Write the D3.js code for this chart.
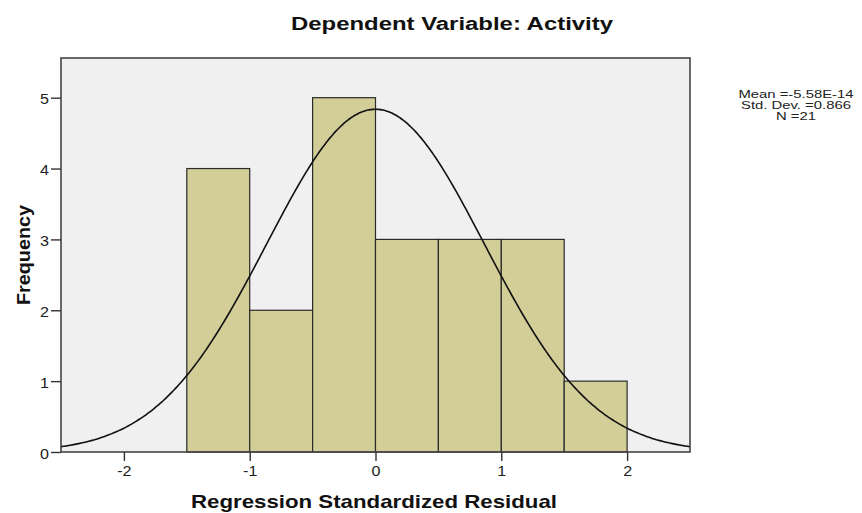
<!DOCTYPE html>
<html><head><meta charset="utf-8">
<script src="https://cdn.jsdelivr.net/npm/d3@7"></script>
<style>body{margin:0;background:#fff}svg{display:block}</style>
</head><body>
<script>
const binStarts = [-1.5, -1.0, -0.5, 0.0, 0.5, 1.0, 1.5];
const binWidth = 0.5;
const frequencies = [4, 2, 5, 3, 3, 3, 1];
const xTicks = [-2, -1, 0, 1, 2];
const yTicks = [0, 1, 2, 3, 4, 5];
const stats = { mean: -5.58e-14, sd: 0.866, n: 21 };
const statLabels = ["Mean =-5.58E-14", "Std. Dev. =0.866", "N =21"];

const W = 862, H = 513;
const FONT = "Liberation Sans, Arial, sans-serif";
const m = { left: 61, top: 58, right: 690, bottom: 452 };
const svg = d3.select("body").append("svg").attr("width", W).attr("height", H);
const x = d3.scaleLinear().domain([-2.5, 2.5]).range([m.left, m.right]);
const y = d3.scaleLinear().domain([0, 5.56]).range([m.bottom, m.top]);

function stretch(sel, f) {
  sel.each(function () {
    const len = this.getComputedTextLength();
    d3.select(this).attr("textLength", len * f).attr("lengthAdjust", "spacingAndGlyphs");
  });
}

svg.append("rect").attr("x", m.left).attr("y", m.top)
  .attr("width", m.right - m.left).attr("height", m.bottom - m.top)
  .attr("fill", "#f0f0f0");

svg.append("g").selectAll("rect").data(binStarts).join("rect")
  .attr("x", d => x(d)).attr("width", d => x(d + binWidth) - x(d))
  .attr("y", (d, i) => y(frequencies[i])).attr("height", (d, i) => y(0) - y(frequencies[i]))
  .attr("fill", "#d3ce97").attr("stroke", "#2a2a2a").attr("stroke-width", 1.2);

const pts = d3.range(-2.5, 2.5001, 0.02).map(v => [v,
  stats.n * binWidth / (stats.sd * Math.sqrt(2 * Math.PI)) * Math.exp(-0.5 * ((v - stats.mean) / stats.sd) ** 2)]);
svg.append("path").datum(pts)
  .attr("d", d3.line().x(d => x(d[0])).y(d => y(d[1])).curve(d3.curveBasis))
  .attr("fill", "none").attr("stroke", "#111").attr("stroke-width", 1.6);

svg.append("rect").attr("x", m.left).attr("y", m.top)
  .attr("width", m.right - m.left).attr("height", m.bottom - m.top)
  .attr("fill", "none").attr("stroke", "#444").attr("stroke-width", 1.6);

const fmt = d => String(d);
const xa = svg.append("g").attr("transform", `translate(0,${m.bottom})`)
  .call(d3.axisBottom(x).tickValues(xTicks).tickSize(9).tickPadding(5).tickFormat(fmt));
const ya = svg.append("g").attr("transform", `translate(${m.left},0)`)
  .call(d3.axisLeft(y).tickValues(yTicks).tickSize(10).tickPadding(2).tickFormat(fmt));
[xa, ya].forEach(a => {
  a.select(".domain").remove();
  a.selectAll(".tick line").attr("stroke", "#333").attr("stroke-width", 1.4);
  a.selectAll(".tick text").attr("fill", "#222").attr("font-family", FONT).attr("font-size", 14);
  stretch(a.selectAll(".tick text"), 1.15);
});
ya.selectAll(".tick text").attr("dy", "0.45em");

svg.append("text").attr("x", 452).attr("y", 30).attr("text-anchor", "middle")
  .attr("font-family", FONT).attr("font-weight", "bold").attr("font-size", 18)
  .attr("fill", "#111").text("Dependent Variable: Activity")
  .attr("textLength", 322).attr("lengthAdjust", "spacingAndGlyphs");
svg.append("text").attr("x", 374).attr("y", 508).attr("text-anchor", "middle")
  .attr("font-family", FONT).attr("font-weight", "bold").attr("font-size", 19)
  .attr("fill", "#111").text("Regression Standardized Residual")
  .attr("textLength", 366).attr("lengthAdjust", "spacingAndGlyphs");
svg.append("text").attr("transform", "translate(30,255) rotate(-90)").attr("text-anchor", "middle")
  .attr("font-family", FONT).attr("font-weight", "bold").attr("font-size", 19)
  .attr("fill", "#111").text("Frequency")
  .attr("textLength", 100).attr("lengthAdjust", "spacingAndGlyphs");

const leg = svg.append("g").selectAll("text").data(statLabels).join("text")
  .attr("x", 796).attr("y", (d, i) => 98 + i * 11).attr("text-anchor", "middle")
  .attr("font-family", FONT).attr("font-size", 11)
  .attr("fill", "#222").text(d => d);
stretch(leg, 1.35);
</script>
</body></html>
